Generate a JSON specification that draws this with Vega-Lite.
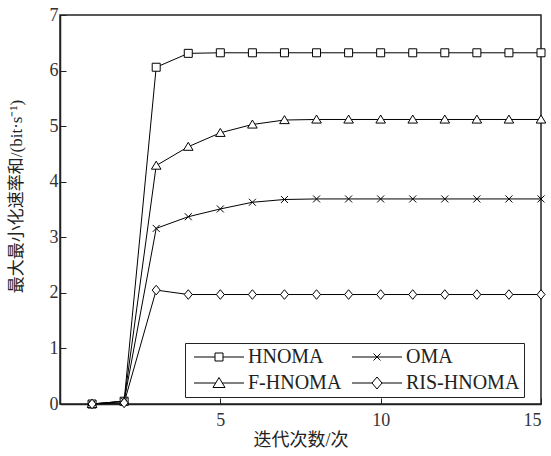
{
  "$schema": "https://vega.github.io/schema/vega-lite/v6.json",
  "width": 481,
  "height": 389,
  "autosize": "none",
  "padding": {"left": 60, "top": 15, "right": 10, "bottom": 52},
  "background": "white",
  "config": {
    "view": {"stroke": "#222", "strokeWidth": 1.5},
    "font": "Liberation Serif",
    "axis": {
      "grid": false,
      "domainColor": "#222",
      "domainWidth": 1.5,
      "tickColor": "#222",
      "tickWidth": 1,
      "labelFont": "Liberation Serif",
      "labelFontSize": 18,
      "labelColor": "#333",
      "titleFont": "Liberation Serif, Noto Sans CJK SC",
      "titleFontSize": 18,
      "titleFontWeight": "normal",
      "titleColor": "#222"
    }
  },
  "data": {
    "values": [
      {"iter": 1, "series": "HNOMA", "rate": 0},
      {"iter": 2, "series": "HNOMA", "rate": 0.05},
      {"iter": 3, "series": "HNOMA", "rate": 6.06},
      {"iter": 4, "series": "HNOMA", "rate": 6.31},
      {"iter": 5, "series": "HNOMA", "rate": 6.32},
      {"iter": 6, "series": "HNOMA", "rate": 6.32},
      {"iter": 7, "series": "HNOMA", "rate": 6.32},
      {"iter": 8, "series": "HNOMA", "rate": 6.32},
      {"iter": 9, "series": "HNOMA", "rate": 6.32},
      {"iter": 10, "series": "HNOMA", "rate": 6.32},
      {"iter": 11, "series": "HNOMA", "rate": 6.32},
      {"iter": 12, "series": "HNOMA", "rate": 6.32},
      {"iter": 13, "series": "HNOMA", "rate": 6.32},
      {"iter": 14, "series": "HNOMA", "rate": 6.32},
      {"iter": 15, "series": "HNOMA", "rate": 6.32},
      {"iter": 1, "series": "OMA", "rate": 0},
      {"iter": 2, "series": "OMA", "rate": 0.05},
      {"iter": 3, "series": "OMA", "rate": 3.16},
      {"iter": 4, "series": "OMA", "rate": 3.37},
      {"iter": 5, "series": "OMA", "rate": 3.51},
      {"iter": 6, "series": "OMA", "rate": 3.63},
      {"iter": 7, "series": "OMA", "rate": 3.68},
      {"iter": 8, "series": "OMA", "rate": 3.69},
      {"iter": 9, "series": "OMA", "rate": 3.69},
      {"iter": 10, "series": "OMA", "rate": 3.69},
      {"iter": 11, "series": "OMA", "rate": 3.69},
      {"iter": 12, "series": "OMA", "rate": 3.69},
      {"iter": 13, "series": "OMA", "rate": 3.69},
      {"iter": 14, "series": "OMA", "rate": 3.69},
      {"iter": 15, "series": "OMA", "rate": 3.69},
      {"iter": 1, "series": "F-HNOMA", "rate": 0},
      {"iter": 2, "series": "F-HNOMA", "rate": 0.05},
      {"iter": 3, "series": "F-HNOMA", "rate": 4.29},
      {"iter": 4, "series": "F-HNOMA", "rate": 4.63},
      {"iter": 5, "series": "F-HNOMA", "rate": 4.88},
      {"iter": 6, "series": "F-HNOMA", "rate": 5.03},
      {"iter": 7, "series": "F-HNOMA", "rate": 5.11},
      {"iter": 8, "series": "F-HNOMA", "rate": 5.12},
      {"iter": 9, "series": "F-HNOMA", "rate": 5.12},
      {"iter": 10, "series": "F-HNOMA", "rate": 5.12},
      {"iter": 11, "series": "F-HNOMA", "rate": 5.12},
      {"iter": 12, "series": "F-HNOMA", "rate": 5.12},
      {"iter": 13, "series": "F-HNOMA", "rate": 5.12},
      {"iter": 14, "series": "F-HNOMA", "rate": 5.12},
      {"iter": 15, "series": "F-HNOMA", "rate": 5.12},
      {"iter": 1, "series": "RIS-HNOMA", "rate": 0},
      {"iter": 2, "series": "RIS-HNOMA", "rate": 0.02},
      {"iter": 3, "series": "RIS-HNOMA", "rate": 2.05},
      {"iter": 4, "series": "RIS-HNOMA", "rate": 1.97},
      {"iter": 5, "series": "RIS-HNOMA", "rate": 1.97},
      {"iter": 6, "series": "RIS-HNOMA", "rate": 1.97},
      {"iter": 7, "series": "RIS-HNOMA", "rate": 1.97},
      {"iter": 8, "series": "RIS-HNOMA", "rate": 1.97},
      {"iter": 9, "series": "RIS-HNOMA", "rate": 1.97},
      {"iter": 10, "series": "RIS-HNOMA", "rate": 1.97},
      {"iter": 11, "series": "RIS-HNOMA", "rate": 1.97},
      {"iter": 12, "series": "RIS-HNOMA", "rate": 1.97},
      {"iter": 13, "series": "RIS-HNOMA", "rate": 1.97},
      {"iter": 14, "series": "RIS-HNOMA", "rate": 1.97},
      {"iter": 15, "series": "RIS-HNOMA", "rate": 1.97}
    ]
  },
  "encoding": {
    "x": {
      "field": "iter",
      "type": "quantitative",
      "scale": {"domain": [0, 15], "nice": false},
      "axis": {"values": [5, 10, 15], "title": "迭代次数/次", "tickSize": -6, "labelPadding": 13, "titlePadding": 2}
    },
    "y": {
      "field": "rate",
      "type": "quantitative",
      "scale": {"domain": [0, 7], "nice": false},
      "axis": {"values": [0, 1, 2, 3, 4, 5, 6, 7], "title": "最大最小化速率和/(bit·s⁻¹)", "titleFontSize": 17, "tickSize": -6, "labelPadding": 8, "titlePadding": 24, "titleY": 181}
    }
  },
  "layer": [
    {
      "mark": {"type": "line", "strokeWidth": 1},
      "encoding": {
        "color": {
          "field": "series",
          "type": "nominal",
          "scale": {
            "domain": ["HNOMA", "OMA", "F-HNOMA", "RIS-HNOMA"],
            "range": ["black", "black", "black", "black"]
          },
          "legend": {
            "title": null,
            "orient": "none",
            "legendX": 125,
            "legendY": 328,
            "columns": 2,
            "direction": "horizontal",
            "padding": 4,
            "strokeColor": "#222",
            "fillColor": "white",
            "labelFont": "Liberation Serif",
            "labelFontSize": 20,
            "labelColor": "#222",
            "symbolSize": 100,
            "symbolOffset": 20,
            "labelOffset": 19,
            "columnPadding": 5,
            "rowPadding": 6,
            "encode": {
              "symbols": {
                "update": {
                  "shape": {"signal": "datum.value === 'HNOMA' ? 'M-5,0H-0.8M0.8,0H5M-0.8,-0.8H0.8V0.8H-0.8Z' : datum.value === 'OMA' ? 'M-5,0H5M-0.7,-0.7L0.7,0.7M0.7,-0.7L-0.7,0.7' : datum.value === 'F-HNOMA' ? 'M-5,0H-0.66M0.66,0H5M0,-1.1L1.2,0.9H-1.2Z' : 'M-5,0H-1M1,0H5M0,-1.2L1,0L0,1.2L-1,0Z'"},
                  "size": {"value": 100},
                  "stroke": {"value": "black"},
                  "fill": {"value": "transparent"},
                  "strokeWidth": {"value": 1},
                  "opacity": {"value": 1},
                  "strokeOpacity": {"value": 1}
                }
              }
            }
          }
        }
      }
    },
    {
      "transform": [{"filter": "datum.series === 'HNOMA'"}],
      "mark": {"type": "point", "shape": "M-1,-1H1V1H-1Z", "size": 64, "filled": true, "fill": "white", "stroke": "black", "strokeWidth": 1, "opacity": 1}
    },
    {
      "transform": [{"filter": "datum.series === 'OMA'"}],
      "mark": {"type": "point", "shape": "M-1,-1L1,1M1,-1L-1,1", "size": 49, "filled": true, "fill": "white", "stroke": "black", "strokeWidth": 1, "opacity": 1}
    },
    {
      "transform": [{"filter": "datum.series === 'F-HNOMA'"}],
      "mark": {"type": "point", "shape": "M0,-1.1L1.2,0.9H-1.2Z", "size": 64, "filled": true, "fill": "white", "stroke": "black", "strokeWidth": 1, "opacity": 1}
    },
    {
      "transform": [{"filter": "datum.series === 'RIS-HNOMA'"}],
      "mark": {"type": "point", "shape": "M0,-1.2L1,0L0,1.2L-1,0Z", "size": 64, "filled": true, "fill": "white", "stroke": "black", "strokeWidth": 1, "opacity": 1}
    }
  ]
}
